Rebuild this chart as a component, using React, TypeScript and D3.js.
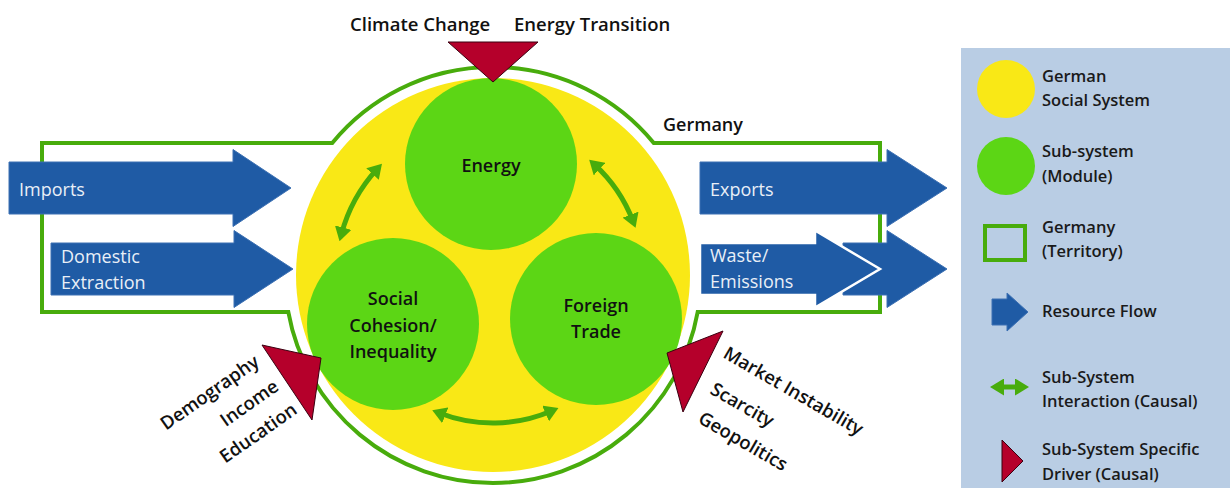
import React from 'react'
import * as d3 from 'd3'

const W = 1230
const H = 488

// labels
const globalDrivers = ['Climate Change', 'Energy Transition']
const subsystems = [['Energy'], ['Social', 'Cohesion/', 'Inequality'], ['Foreign', 'Trade']]
const inflows = [['Imports'], ['Domestic', 'Extraction']]
const outflows = [['Exports'], ['Waste/', 'Emissions']]
const socialDrivers = ['Demography', 'Income', 'Education']
const tradeDrivers = ['Market Instability', 'Scarcity', 'Geopolitics']
const territoryLabel = 'Germany'
const legendLabels = [
  ['German', 'Social System'],
  ['Sub-system', '(Module)'],
  ['Germany', '(Territory)'],
  ['Resource Flow'],
  ['Sub-System', 'Interaction (Causal)'],
  ['Sub-System Specific', 'Driver (Causal)'],
]

// layout
const C = { x: 493, y: 275 }
const R_SYS = 197
const R_TER = 208
const R_SUB = 86
const subPos = [{ x: 491, y: 164 }, { x: 393, y: 324 }, { x: 596, y: 319 }]
const subBaselines = [[172], [305, 332, 358], [312, 338]]

const col = {
  yellow: '#f9e816',
  sub: '#5cd615',
  line: '#48ac0c',
  blue: '#1f5ba5',
  red: '#b5002b',
  legend: '#b9cde4',
}
const FONT = '"Open Sans", Lato, sans-serif'
const BOLD = 600

const rad = (deg: number) => (deg * Math.PI) / 180
const polar = (deg: number, r: number): [number, number] => [C.x + r * Math.cos(rad(deg)), C.y + r * Math.sin(rad(deg))]

function territoryPath() {
  const top = 143, bottom = 312, left = 42, right = 880
  const dxTop = Math.sqrt(R_TER * R_TER - (C.y - top) ** 2)
  const dxBot = Math.sqrt(R_TER * R_TER - (bottom - C.y) ** 2)
  const p = d3.path()
  p.moveTo(left, top)
  p.lineTo(C.x - dxTop, top)
  p.arc(C.x, C.y, R_TER, Math.atan2(top - C.y, -dxTop), Math.atan2(top - C.y, dxTop), false)
  p.lineTo(right, top)
  p.lineTo(right, bottom)
  p.lineTo(C.x + dxBot, bottom)
  p.arc(C.x, C.y, R_TER, Math.atan2(bottom - C.y, dxBot), Math.atan2(bottom - C.y, -dxBot), false)
  p.lineTo(left, bottom)
  p.closePath()
  return p.toString()
}

const line = d3.line()
const blockArrow = (x0: number, xh: number, xt: number, cy: number, bh = 26, hh = 38.5) =>
  line([[x0, cy - bh], [xh, cy - bh], [xh, cy - hh], [xt, cy], [xh, cy + hh], [xh, cy + bh], [x0, cy + bh]]) + 'Z'
const tri = (pts: [number, number][]) => line(pts) + 'Z'

// interaction arcs: [startDeg, endDeg, radius]
const interactions: [number, number, number][] = [
  [195, 222.5, 157],
  [-47.5, -21, 150],
  [111.5, 66.5, 148],
]
const arcPath = ([a0, a1, r]: [number, number, number]) => {
  const p = d3.path()
  const s = polar(a0, r)
  p.moveTo(s[0], s[1])
  p.arc(C.x, C.y, r, rad(a0), rad(a1), a1 < a0)
  return p.toString()
}

export default function App() {
  return (
    <svg width={W} height={H} style={{ position: 'absolute', left: 0, top: 0, background: '#fff' }} fontFamily={FONT}>
      <defs>
        <marker id="ah" viewBox="0 0 14 17" refX="7" refY="8.5" markerWidth="14" markerHeight="17"
          markerUnits="userSpaceOnUse" orient="auto-start-reverse">
          <path d="M0,0 L14,8.5 L0,17 Z" fill={col.line} />
        </marker>
      </defs>

      {/* territory */}
      <path d={territoryPath()} fill="none" stroke={col.line} strokeWidth={4} />
      <text x={663} y={131} fontSize={18} fontWeight={BOLD} fill="#111">{territoryLabel}</text>

      {/* social system */}
      <circle cx={C.x} cy={C.y} r={R_SYS} fill={col.yellow} />
      {subsystems.map((lines, i) => (
        <g key={i}>
          <circle cx={subPos[i].x} cy={subPos[i].y} r={R_SUB} fill={col.sub} />
          {lines.map((t, j) => (
            <text key={j} x={subPos[i].x} y={subBaselines[i][j]} textAnchor="middle" fontSize={18} fontWeight={BOLD} fill="#111">{t}</text>
          ))}
        </g>
      ))}
      {interactions.map((a, i) => (
        <path key={i} d={arcPath(a)} fill="none" stroke={col.line} strokeWidth={5} markerStart="url(#ah)" markerEnd="url(#ah)" />
      ))}

      {/* resource flows */}
      <g fill={col.blue} stroke="#3c70b3" strokeWidth={1}>
        <path d={blockArrow(9, 233, 291, 188)} />
        <path d={blockArrow(51, 234, 293, 269)} />
        <path d={blockArrow(700, 887, 947, 188)} />
        <path d={blockArrow(843, 887, 947, 269)} />
        <path d={blockArrow(700, 815, 880, 269)} stroke="#fff" strokeWidth={2.5} />
      </g>
      <g fill="#e9eff7" fontSize={18}>
        <text x={19} y={196}>{inflows[0][0]}</text>
        <text x={61} y={263}>{inflows[1][0]}</text>
        <text x={61} y={289}>{inflows[1][1]}</text>
        <text x={710} y={196}>{outflows[0][0]}</text>
        <text x={710} y={262}>{outflows[1][0]}</text>
        <text x={710} y={288}>{outflows[1][1]}</text>
      </g>

      {/* drivers */}
      <g fill={col.red} stroke="#3a0010" strokeWidth={1}>
        <path d={tri([[448, 42], [538, 42], [493, 82]])} />
        <path d={tri([[262, 345], [321, 358], [312, 420]])} />
        <path d={tri([[723, 331], [667, 353], [683, 412]])} />
      </g>
      <g fontSize={18.5} fontWeight={BOLD} fill="#111">
        <text x={350} y={31}>{globalDrivers[0]}</text>
        <text x={514} y={31}>{globalDrivers[1]}</text>
        {socialDrivers.map((t, i) => {
          const p = [[260.5, 364.6], [280, 389.3], [298.3, 412.6]][i]
          return <text key={t} textAnchor="end" transform={`translate(${p[0]},${p[1]}) rotate(-35)`} fontSize={18.5}>{t}</text>
        })}
        {tradeDrivers.map((t, i) => {
          const p = [[722, 357], [709, 393], [697, 422]][i]
          return <text key={t} transform={`translate(${p[0]},${p[1]}) rotate(30)`} fontSize={18.5}>{t}</text>
        })}
      </g>

      {/* legend */}
      <rect x={961} y={48} width={W - 961} height={H - 48} fill={col.legend} />
      <circle cx={1006} cy={89} r={29} fill={col.yellow} />
      <circle cx={1006} cy={166} r={29} fill={col.sub} />
      <rect x={985} y={226} width={40} height={34} fill="none" stroke={col.line} strokeWidth={4} />
      <path d={blockArrow(992, 1007, 1028, 312, 13, 19)} fill={col.blue} stroke="#3c70b3" strokeWidth={1} />
      <path d={`M${997},387 L${1022},387`} stroke={col.line} strokeWidth={5} markerStart="url(#ah)" markerEnd="url(#ah)" />
      <path d={tri([[1002, 440], [1002, 482], [1023, 461]])} fill={col.red} stroke="#3a0010" strokeWidth={1} />
      <g fontSize={16.5} fontWeight={BOLD} fill="#1a1a1a">
        {legendLabels.map((lines, i) => {
          const ys = [[82, 106], [157, 182], [233, 257], [317], [383, 407], [455, 480]][i]
          return lines.map((t, j) => <text key={i + '-' + j} x={1042} y={ys[j]}>{t}</text>)
        })}
      </g>
    </svg>
  )
}
